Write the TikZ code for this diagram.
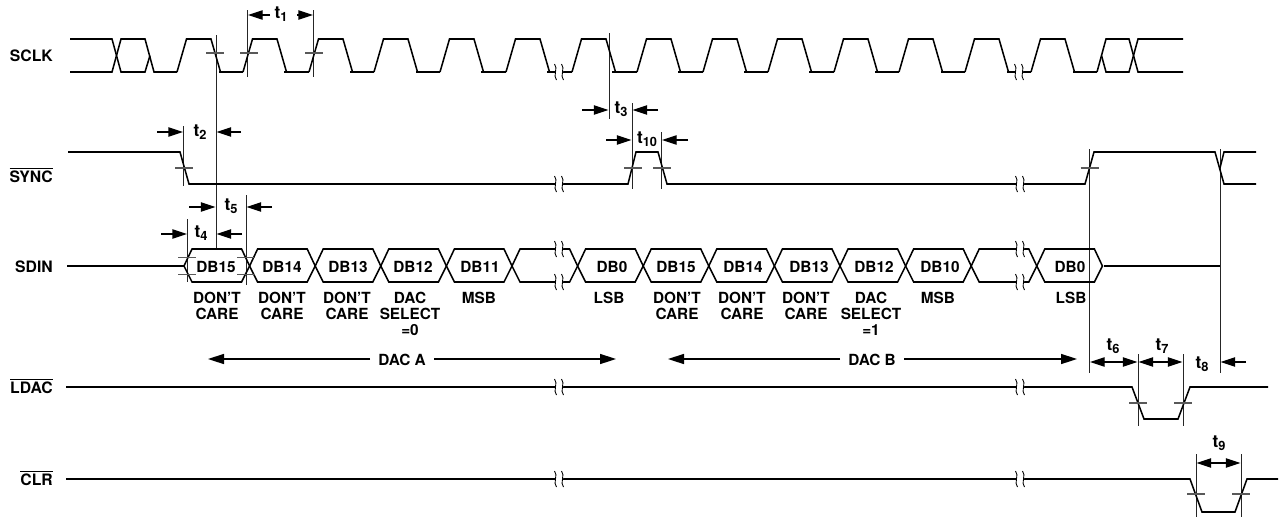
\documentclass[tikz,border=0pt]{standalone}
\usepackage{fontspec}
\setmainfont{TeX Gyre Heros}
\usetikzlibrary{arrows.meta}
\newcommand{\tlab}[1]{{\fontsize{13}{13}\selectfont t}\raisebox{-2.4pt}{\fontsize{9.6}{10}\selectfont #1}}
\newcommand{\ovl}[1]{$\overline{\hbox{#1}}$}
\newcommand{\brk}[2]{%
  \fill[white] (#1-3.5,#2-8) -- (#1+4.5,#2-8) -- (#1+3.5,#2+8) -- (#1-2.5,#2+8) -- cycle;
  \draw[brkline] (#1-4.5,#2-8) .. controls (#1-0.5,#2-4) and (#1-6.5,#2+4) .. (#1-2.5,#2+8);
  \draw[brkline] (#1+2.5,#2-8) .. controls (#1+6.5,#2-4) and (#1+0.5,#2+4) .. (#1+4.5,#2+8);
}
\tikzset{
  wave/.style={line width=1.15pt,black,line join=miter},
  nib/.style={line width=1.6pt,black},
  guide/.style={line width=0.75pt,black!85},
  tick/.style={line width=0.85pt,black!65},
  brkline/.style={line width=0.65pt,black},
  dima/.style={line width=1pt,black,-{Triangle[length=11pt,width=7pt]}},
  dimb/.style={line width=1pt,black,{Triangle[length=11pt,width=7pt]}-{Triangle[length=11pt,width=7pt]}},
  longa/.style={line width=1.15pt,black,-{Triangle[length=12pt,width=7.5pt]}},
  sig/.style={font=\bfseries\fontsize{11.8}{12}\selectfont,anchor=base east,inner sep=0pt},
  lab/.style={font=\bfseries\fontsize{11.5}{12}\selectfont,anchor=base,inner sep=0pt},
  tl/.style={font=\bfseries,anchor=base,inner sep=0pt}
}
\begin{document}
\begin{tikzpicture}[x=0.75pt,y=-0.75pt]
\useasboundingbox (0,0) rectangle (1282,518);

% ---------- guide lines
\draw[guide] (216,35) -- (216,249);
\draw[guide] (247.5,10) -- (247.5,77);
\draw[guide] (313,10) -- (313,77);
\draw[guide] (609,33) -- (609,119);
\draw[guide] (183.5,126) -- (183.5,186);
\draw[guide] (632,103) -- (632,189);
\draw[guide] (661.5,132) -- (661.5,189);
\draw[guide] (1089.5,149) -- (1089.5,373);
\draw[guide] (1220,149) -- (1220,373);
\draw[guide] (187.5,219) -- (187.5,282);
\draw[guide] (246,195) -- (246,285);
\draw[guide] (1138,354) -- (1138,426);
\draw[guide] (1183,354) -- (1183,426);
\draw[guide] (1196,454) -- (1196,517);
\draw[guide] (1241,454) -- (1241,517);

% ---------- SCLK
\draw[wave] (70,39) -- (112,39) -- (121,72) -- (145,72) -- (150,55.5);
\draw[wave] (70,72) -- (112,72) -- (121,39) -- (145,39) -- (154,72) -- (177,72);
\foreach \r in {177,243,309,374,440,506,572,637,703,768,834,899,965,1031}{
  \draw[wave] (\r,72) -- (\r+9.5,39) -- (\r+34,39) -- (\r+43.5,72);
  \draw[nib] (\r+18,39) -- (\r+25,39);
}
\foreach \a/\b in {220/243,285/309,351/374,417/440,482/506,548/572,613/637,679/703,745/768,810/834,876/899,942/965,1008/1031,1074/1097}{
  \draw[wave] (\a-1,72) -- (\b,72);
}
\draw[wave] (1097,72) -- (1106,39) -- (1129,39) -- (1138,72) -- (1183,72);
\draw[wave] (1097,55.5) ++(4.5,0) -- (1106,72) -- (1129,72) -- (1138,39) -- (1183,39);
\draw[nib] (114,39) ++(14,0) -- ++(7,0);
\draw[nib] (1113,39) -- (1120,39);
\foreach \x in {215,249,314}{\draw[tick] (\x-9,53) -- (\x+9,53);}
\brk{559}{72}\brk{1019}{72}

% ---------- SYNC
\draw[wave] (68,152) -- (180,152) -- (189,184) -- (628,184) -- (636,152) -- (658,152) -- (667,184) -- (1085,184) -- (1094,152) -- (1215,152) -- (1224,184) -- (1256,184);
\draw[wave] (1220,168) -- (1224,152) -- (1256,152);
\draw[nib] (608,184) -- (623,184);
\draw[nib] (670,184) -- (686,184);
\foreach \x in {184,633,662,1089.5}{\draw[tick] (\x-9,168) -- (\x+9,168);}
\brk{559}{184}\brk{1020}{184}

% ---------- SDIN
\draw[wave] (67,266) -- (184,266);
\draw[wave] (1104,266) -- (1220,266);
\foreach \c in {184,249.6,315.2,380.8,446.4,512,577.6,643.2,708.8,774.4,840,905.6,971.2,1036.8}{
  \draw[wave] (\c,266) -- (\c+8,249) -- (\c+57.6,249) -- (\c+65.6,266) -- (\c+57.6,282) -- (\c+8,282) -- cycle;
  \draw[nib] (\c+26,249) -- (\c+39,249);
}
\foreach \x in {187,246}{\draw[tick] (\x-9,257.5) -- (\x+9,257.5);\draw[tick] (\x-9,274.5) -- (\x+9,274.5);}
\brk{559}{249}\brk{559}{282}\brk{1020}{249}\brk{1020}{282}

% ---------- LDAC
\draw[wave] (66,387) -- (1132,387) -- (1144,419) -- (1178,419) -- (1190,387) -- (1268,387);
\foreach \x in {1138,1183}{\draw[tick] (\x-9,403) -- (\x+9,403);}
\brk{559}{387}\brk{1020}{387}

% ---------- CLR
\draw[wave] (66,479) -- (1190,479) -- (1202,512) -- (1235,512) -- (1247,479) -- (1278,479);
\foreach \x in {1196,1241}{\draw[tick] (\x-9,494) -- (\x+9,494);}
\brk{559}{479}\brk{1020}{479}

% ---------- signal names
\node[sig] (sclk) at (53,61.5) {SCLK};
\node[sig] (sync) at (53,182) {\ovl{SYNC}};
\node[sig] (sdin) at (53,272.5) {SDIN};
\node[sig] (ldac) at (53,393) {\ovl{LDAC}};
\node[sig] (clr) at (53,485) {\ovl{CLR}};

% ---------- timing arrows and labels
\draw[dima] (270,15) -- (248,15);
\draw[dima] (297,15) -- (313,15);
\node[tl] (t1) at (281,18) {\tlab{1}};
\draw[dima] (157,132) -- (183,132);
\draw[dima] (241,132) -- (216.5,132);
\node[tl] (t2) at (200,136) {\tlab{2}};
\draw[dima] (582,110) -- (608.5,110);
\draw[dima] (658,110) -- (632.5,110);
\node[tl] (t3) at (621,113.5) {\tlab{3}};
\draw[dima] (606,140) -- (631.5,140);
\draw[dima] (688,140) -- (662,140);
\node[tl] (t10) at (647,143) {\tlab{10}};
\draw[dima] (189,207) -- (215.5,207);
\draw[dima] (272,207) -- (246.5,207);
\node[tl] (t5) at (231,210.5) {\tlab{5}};
\draw[dima] (161,234) -- (187,234);
\draw[dima] (242,234) -- (216.5,234);
\node[tl] (t4) at (201,237) {\tlab{4}};
\draw[dimb] (1090,362) -- (1137.5,362);
\draw[dimb] (1138.5,362) -- (1182.5,362);
\draw[dima] (1246,362) -- (1220.5,362);
\node[tl] (t6) at (1113,350) {\tlab{6}};
\node[tl] (t7) at (1162,350) {\tlab{7}};
\node[tl] (t8) at (1202,368) {\tlab{8}};
\draw[dimb] (1196.5,463) -- (1240.5,463);
\node[tl] (t9) at (1219,447.5) {\tlab{9}};

% ---------- bit names
\foreach \n/\x/\s in {a/216/DB15,b/282/DB14,c/348/DB13,d/413/DB12,e/480/DB11,f/612/DB0,g/676/DB15,h/743/DB14,i/809/DB13,j/874/DB12,k/940/DB10,l/1070/DB0}{
  \node[lab] (bit\n) at (\x,272.7) {\s};
}
\foreach \n/\x in {a/217,b/282,c/347,g/677,h/742,i/806}{
  \node[lab] (dont\n) at (\x,303) {DON'T};
  \node[lab] (care\n) at (\x,319) {CARE};
}
\node[lab] (daca) at (410,303) {DAC};
\node[lab] (sela) at (410,319) {SELECT};
\node[lab] (eqa) at (410,335.5) {=0};
\node[lab] (dacb) at (871,303) {DAC};
\node[lab] (selb) at (871,319) {SELECT};
\node[lab] (eqb) at (871,335.5) {=1};
\node[lab] (msba) at (479,303) {MSB};
\node[lab] (lsba) at (609,303) {LSB};
\node[lab] (msbb) at (938,303) {MSB};
\node[lab] (lsbb) at (1071,303) {LSB};

% ---------- register spans
\node[lab] (dacA) at (402,365) {DAC A};
\node[lab] (dacB) at (872,365) {DAC B};
\coordinate (al) at (208,359);
\coordinate (ar) at (616,359);
\coordinate (bl) at (668,359);
\coordinate (br) at (1077,359);
\draw[longa] (370,359) -- (al);
\draw[longa] (434,359) -- (ar);
\draw[longa] (840,359) -- (bl);
\draw[longa] (904,359) -- (br);
\end{tikzpicture}
\end{document}
